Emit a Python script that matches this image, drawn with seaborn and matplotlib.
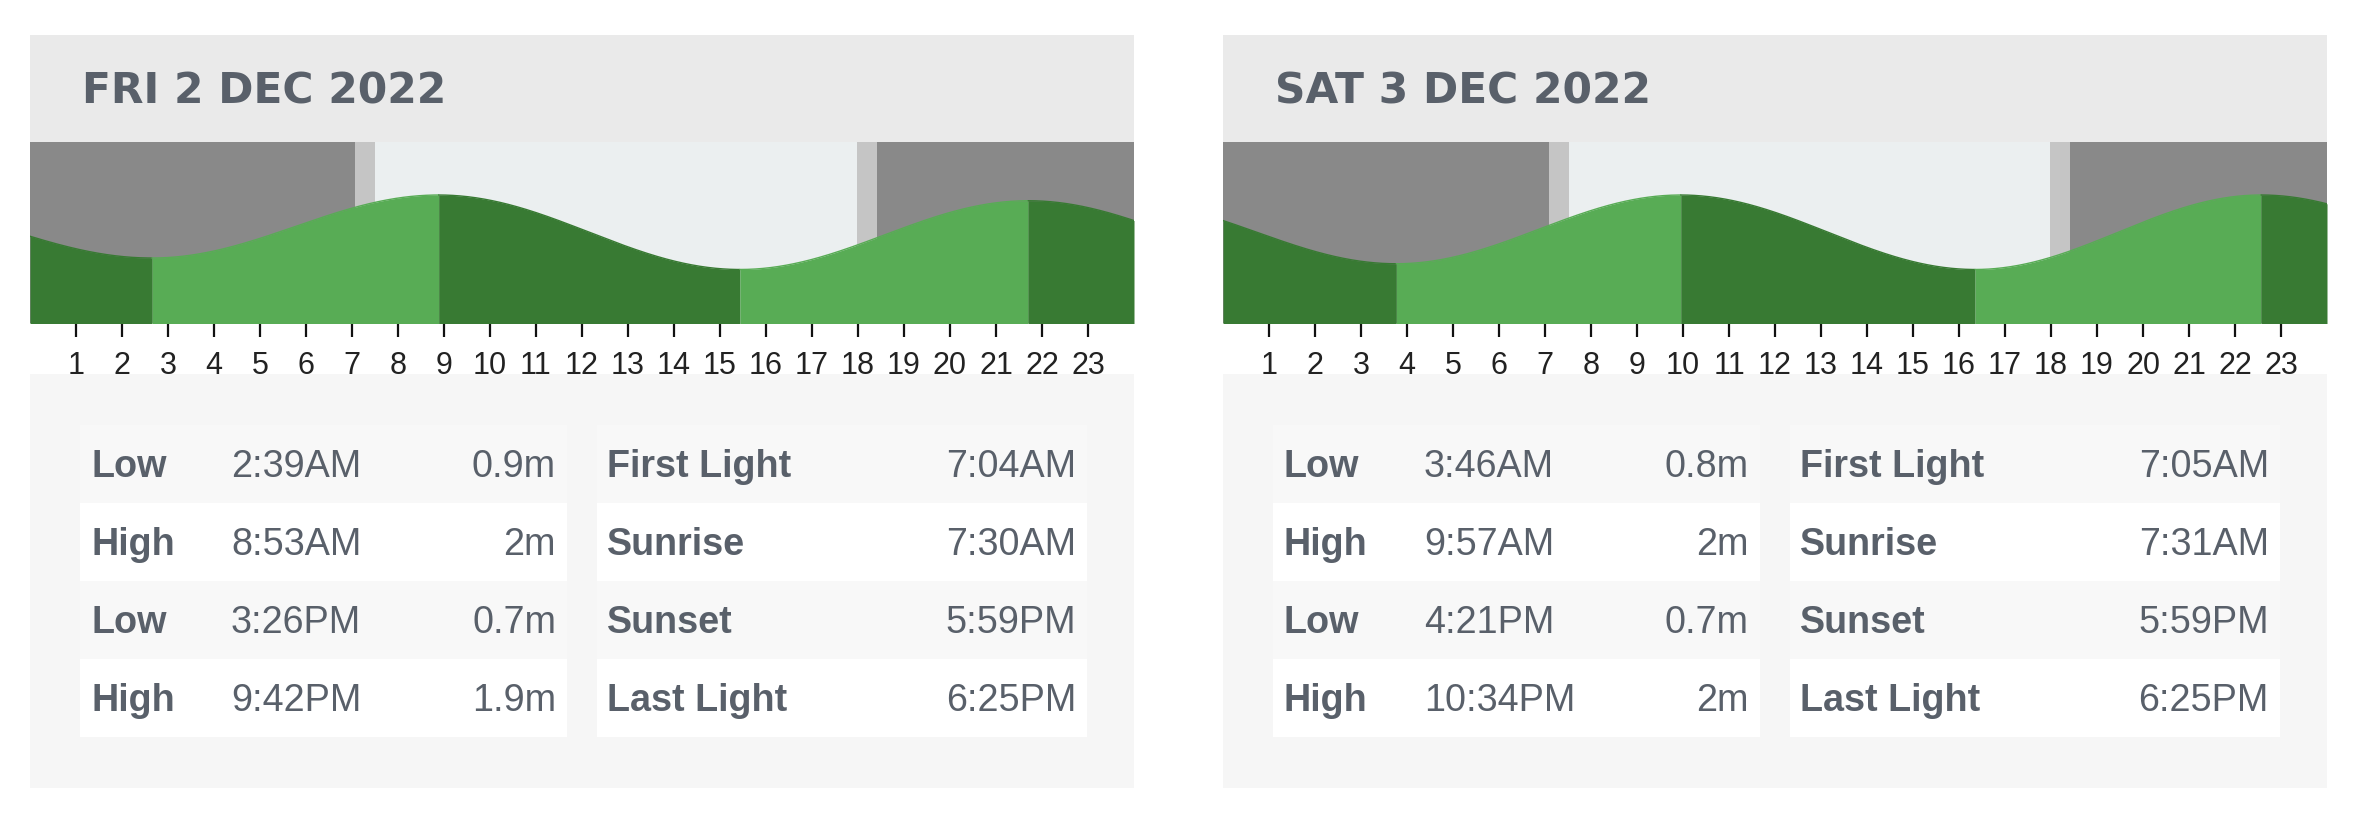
import matplotlib
matplotlib.use("Agg")
import matplotlib.pyplot as plt
import seaborn as sns
import numpy as np
import pandas as pd
from matplotlib.patches import Rectangle

# ---------------- data ----------------
day_titles = ["FRI 2 DEC 2022", "SAT 3 DEC 2022"]
tide_types = [["Low", "High", "Low", "High"], ["Low", "High", "Low", "High"]]
tide_times = [["2:39AM", "8:53AM", "3:26PM", "9:42PM"],
              ["3:46AM", "9:57AM", "4:21PM", "10:34PM"]]
tide_heights = [[0.9, 2.0, 0.7, 1.9], [0.8, 2.0, 0.7, 2.0]]
# neighbouring-day extremes (estimated from the curve at the chart edges)
prev_tide_times = ["8:23PM", "9:42PM"]
prev_tide_heights = [1.9, 1.9]
next_tide_times = ["3:46AM", "4:50AM"]
next_tide_heights = [0.8, 0.75]
light_labels = ["First Light", "Sunrise", "Sunset", "Last Light"]
light_times = [["7:04AM", "7:30AM", "5:59PM", "6:25PM"],
               ["7:05AM", "7:31AM", "5:59PM", "6:25PM"]]
hour_ticks = list(range(1, 24))

# ---------------- style ----------------
W, H = 2373, 822
NIGHT, TWILIGHT, DAY = "#898989", "#c5c5c5", "#ebeff0"
DARK_G, LIGHT_G = "#387a33", "#58ac55"
HEADER_BG, PANEL_BG, ROW_ALT = "#eaeaea", "#f6f6f6", "#f8f8f8"
TXT = "#59606a"

sns.set_theme(style="white")
plt.rcParams["font.family"] = ["Liberation Sans", "DejaVu Sans"]


def to_hours(s):
    t, ap = s[:-2], s[-2:]
    h, m = map(int, t.split(":"))
    return h % 12 + (12 if ap == "PM" else 0) + m / 60.0


fig = plt.figure(figsize=(W / 100, H / 100), dpi=100)
fig.patch.set_facecolor("white")
bg = fig.add_axes([0, 0, 1, 1])
bg.set_xlim(0, W)
bg.set_ylim(H, 0)
bg.axis("off")

PANEL_W = 1104
for d in range(2):
    x0 = 30 + 1193 * d
    # header
    bg.add_patch(Rectangle((x0, 35), PANEL_W, 107, color=HEADER_BG, lw=0))
    bg.text(x0 + 52, 103, day_titles[d], fontsize=30.5, weight="bold",
            color=TXT, va="baseline", ha="left", family="DejaVu Sans")
    # table panel
    bg.add_patch(Rectangle((x0, 374), PANEL_W, 414, color=PANEL_BG, lw=0))
    tl_x, tl_w = x0 + 50, 487
    tr_x, tr_w = x0 + 567, 490
    for i in range(4):
        top = 425 + 78 * i
        col = ROW_ALT if i % 2 == 0 else "white"
        bg.add_patch(Rectangle((tl_x, top), tl_w, 78, color=col, lw=0))
        bg.add_patch(Rectangle((tr_x, top), tr_w, 78, color=col, lw=0))
        base = top + 52
        bg.text(tl_x + 11, base, tide_types[d][i], fontsize=27.2, weight="bold",
                color=TXT, va="baseline", ha="left")
        bg.text(tl_x + 151, base, tide_times[d][i], fontsize=27.2,
                color=TXT, va="baseline", ha="left")
        bg.text(tl_x + tl_w - 11, base, f"{tide_heights[d][i]:g}m", fontsize=27.2,
                color=TXT, va="baseline", ha="right")
        bg.text(tr_x + 10, base, light_labels[i], fontsize=27.2, weight="bold",
                color=TXT, va="baseline", ha="left")
        bg.text(tr_x + tr_w - 11, base, light_times[d][i], fontsize=27.2,
                color=TXT, va="baseline", ha="right")

    # ---------------- tide chart ----------------
    ax = fig.add_axes([x0 / W, (H - 323) / H, PANEL_W / W, 181 / H])
    ax.set_xlim(0, 24)
    ax.set_ylim(-0.234, 2.925)
    fl, sr, ss, ll = [to_hours(s) for s in light_times[d]]
    for a, b, c in [(0, fl, NIGHT), (fl, sr, TWILIGHT), (sr, ss, DAY),
                    (ss, ll, TWILIGHT), (ll, 24, NIGHT)]:
        ax.axvspan(a, b, color=c, lw=0, zorder=0)

    ext_t = [to_hours(prev_tide_times[d]) - 24] + [to_hours(s) for s in tide_times[d]] \
        + [to_hours(next_tide_times[d]) + 24]
    ext_h = [prev_tide_heights[d]] + tide_heights[d] + [next_tide_heights[d]]
    rows = []
    for k in range(len(ext_t) - 1):
        a, b = ext_t[k], ext_t[k + 1]
        lo, hi = max(a, 0), min(b, 24)
        if hi <= lo:
            continue
        ts = np.linspace(lo, hi, 300)
        frac = (ts - a) / (b - a)
        hs = ext_h[k] + (ext_h[k + 1] - ext_h[k]) * (1 - np.cos(np.pi * frac)) / 2
        col = LIGHT_G if ext_h[k + 1] > ext_h[k] else DARK_G
        ax.fill_between(ts, -1, hs, color=col, lw=0, zorder=2)
        rows.append(pd.DataFrame({"t": ts, "h": hs, "seg": k, "col": col}))
    df = pd.concat(rows, ignore_index=True)
    pal = {k: g["col"].iloc[0] for k, g in df.groupby("seg")}
    sns.lineplot(data=df, x="t", y="h", hue="seg", palette=pal, legend=False,
                 estimator=None, sort=False, lw=1.0, ax=ax, zorder=3)

    ax.set_xticks(hour_ticks)
    ax.set_xticklabels([str(h) for h in hour_ticks])
    ax.set_yticks([])
    ax.set_xlabel("")
    ax.set_ylabel("")
    for sp in ax.spines.values():
        sp.set_visible(False)
    ax.tick_params(axis="x", bottom=True, direction="out", length=10, width=1.6,
                   color="#111111", pad=10.5, labelsize=22, labelcolor="#222222")
    for lab in ax.get_xticklabels():
        lab.set_family(["Liberation Sans Narrow", "Liberation Sans", "DejaVu Sans"])

fig.savefig("out.png", dpi=100, facecolor="white")
